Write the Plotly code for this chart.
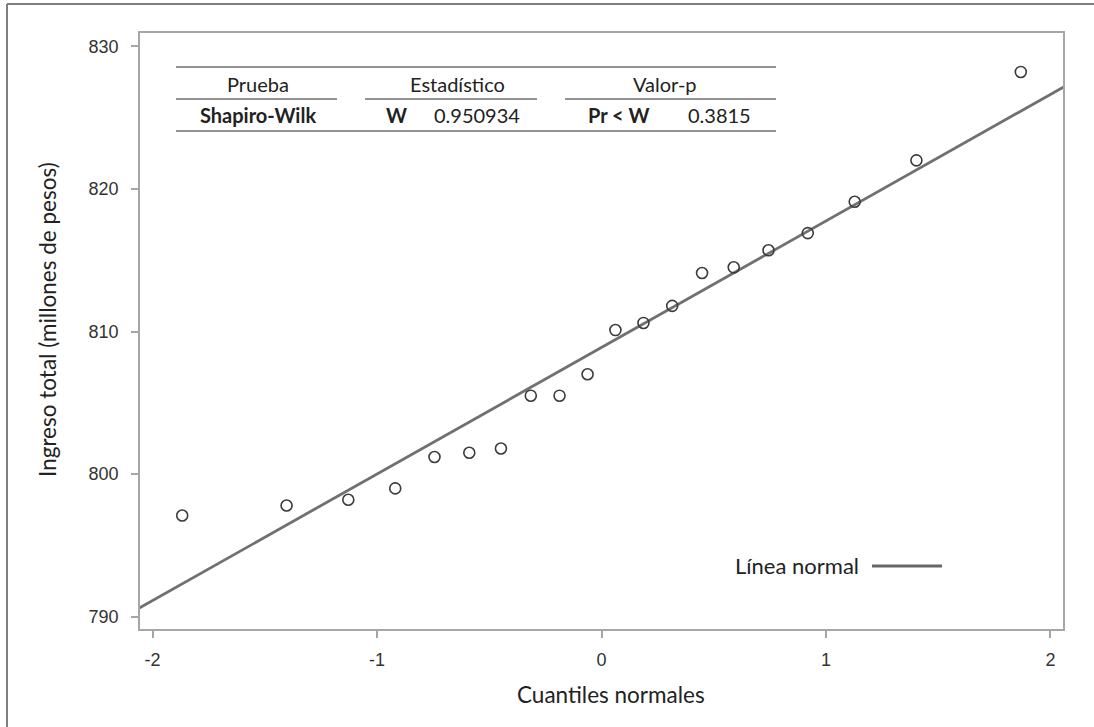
import numpy as np
import plotly.graph_objects as go

# Normal quantiles (Blom scores) and observed total income, sorted
cuantiles = [-1.868, -1.403, -1.128, -0.919, -0.744, -0.589, -0.448, -0.315, -0.187, -0.062,
             0.062, 0.187, 0.315, 0.448, 0.589, 0.744, 0.919, 1.128, 1.403, 1.868]
ingreso = [797.1, 797.8, 798.2, 799.0, 801.2, 801.5, 801.8, 805.5, 805.5, 807.0,
           810.1, 810.6, 811.8, 814.1, 814.5, 815.7, 816.9, 819.1, 822.0, 828.2]

x_ticks = [-2, -1, 0, 1, 2]
x_tick_text = ["-2", "-1", "0", "1", "2"]
y_ticks = [790, 800, 810, 820, 830]

# Shapiro-Wilk summary table
tabla_encabezado = ["Prueba", "Estadístico", "Valor-p"]
prueba = "Shapiro-Wilk"
estadistico_nombre, estadistico_valor = "W", "0.950934"
p_nombre, p_valor = "Pr < W", "0.3815"

W, H = 1094, 727
ML, MR, MT, MB = 140, 31, 33, 98
PW, PH = W - ML - MR, H - MT - MB


def px(x):
    return (x - ML) / PW


def py(y):
    return (H - MB - y) / PH


# Normal reference line from sample mean and standard deviation
mu = float(np.mean(ingreso))
sigma = float(np.std(ingreso, ddof=1))
xl = np.array([-2.3, 2.3])
yl = mu + sigma * xl

fig = go.Figure()
fig.add_trace(go.Scatter(x=xl, y=yl, mode="lines",
                         line=dict(color="#707070", width=2.8),
                         showlegend=False, hoverinfo="skip"))
fig.add_trace(go.Scatter(x=cuantiles, y=ingreso, mode="markers",
                         marker=dict(symbol="circle-open", size=11, color="#3c3c3c",
                                     line=dict(width=1.6)),
                         showlegend=False))

axis_col = "#a6a6a6"
tick_font = dict(family="Liberation Sans, Arial", size=18, color="#333333")
fig.update_xaxes(range=[-2.056, 2.056], tickvals=x_ticks, ticktext=x_tick_text,
                 ticks="outside", ticklen=7, tickwidth=1.5, tickcolor=axis_col,
                 showline=True, linecolor=axis_col, linewidth=1.8, mirror=True,
                 showgrid=False, zeroline=False, tickfont=tick_font,
                 ticklabelstandoff=6)
fig.update_yaxes(range=[789.14, 830.93], tickvals=y_ticks,
                 ticks="outside", ticklen=7, tickwidth=1.5, tickcolor=axis_col,
                 showline=True, linecolor=axis_col, linewidth=1.8, mirror=True,
                 showgrid=False, zeroline=False, tickfont=tick_font,
                 ticklabelstandoff=9)

title_font = dict(family="Lato, Open Sans", size=22.5, color="#222222")
table_font = dict(family="Lato, Open Sans", size=20, color="#222222")
legend_font = dict(family="Lato, Open Sans", size=22, color="#222222")
ann = []
ann.append(dict(x=px(611), y=py(695), xref="paper", yref="paper", text="Cuantiles normales",
                showarrow=False, font=title_font, xanchor="center", yanchor="middle"))
ann.append(dict(x=px(47), y=py(320), xref="paper", yref="paper",
                text="Ingreso total (millones de pesos)", textangle=-90,
                showarrow=False, font=title_font, xanchor="center", yanchor="middle"))

# table text
for txt, cx in zip(tabla_encabezado, [258, 457, 665]):
    ann.append(dict(x=px(cx), y=py(84), xref="paper", yref="paper", text=txt,
                    showarrow=False, font=table_font, xanchor="center", yanchor="middle"))
row = [(f"<b>{prueba}</b>", 258), (f"<b>{estadistico_nombre}</b>", 396),
       (estadistico_valor, 477), (f"<b>{p_nombre}</b>", 618), (p_valor, 719)]
for txt, cx in row:
    ann.append(dict(x=px(cx), y=py(115), xref="paper", yref="paper", text=txt,
                    showarrow=False, font=table_font, xanchor="center", yanchor="middle"))

# legend label
ann.append(dict(x=px(861), y=py(565), xref="paper", yref="paper", text="Línea normal",
                showarrow=False, font=legend_font, xanchor="right", yanchor="middle"))

shapes = []
rule = dict(color="#6e6e6e", width=1.3)
shapes.append(dict(type="line", xref="paper", yref="paper", x0=px(176), x1=px(776),
                   y0=py(67), y1=py(67), line=rule))
for a, b in [(176, 337), (365, 537), (565, 776)]:
    shapes.append(dict(type="line", xref="paper", yref="paper", x0=px(a), x1=px(b),
                       y0=py(99), y1=py(99), line=rule))
shapes.append(dict(type="line", xref="paper", yref="paper", x0=px(176), x1=px(776),
                   y0=py(131), y1=py(131), line=rule))
# legend sample line
shapes.append(dict(type="line", xref="paper", yref="paper", x0=px(872), x1=px(942),
                   y0=py(566), y1=py(566), line=dict(color="#666666", width=3)))
# outer frame (left and top edges)
frame = dict(color="#7f7f7f", width=2)
shapes.append(dict(type="line", xref="paper", yref="paper", x0=px(7), x1=px(7),
                   y0=py(4), y1=py(H + 5), line=frame))
shapes.append(dict(type="line", xref="paper", yref="paper", x0=px(7), x1=px(W + 5),
                   y0=py(4), y1=py(4), line=frame))

fig.update_layout(width=W, height=H, margin=dict(l=ML, r=MR, t=MT, b=MB),
                  paper_bgcolor="white", plot_bgcolor="white",
                  annotations=ann, shapes=shapes, showlegend=False)

fig.write_html("out.html")
